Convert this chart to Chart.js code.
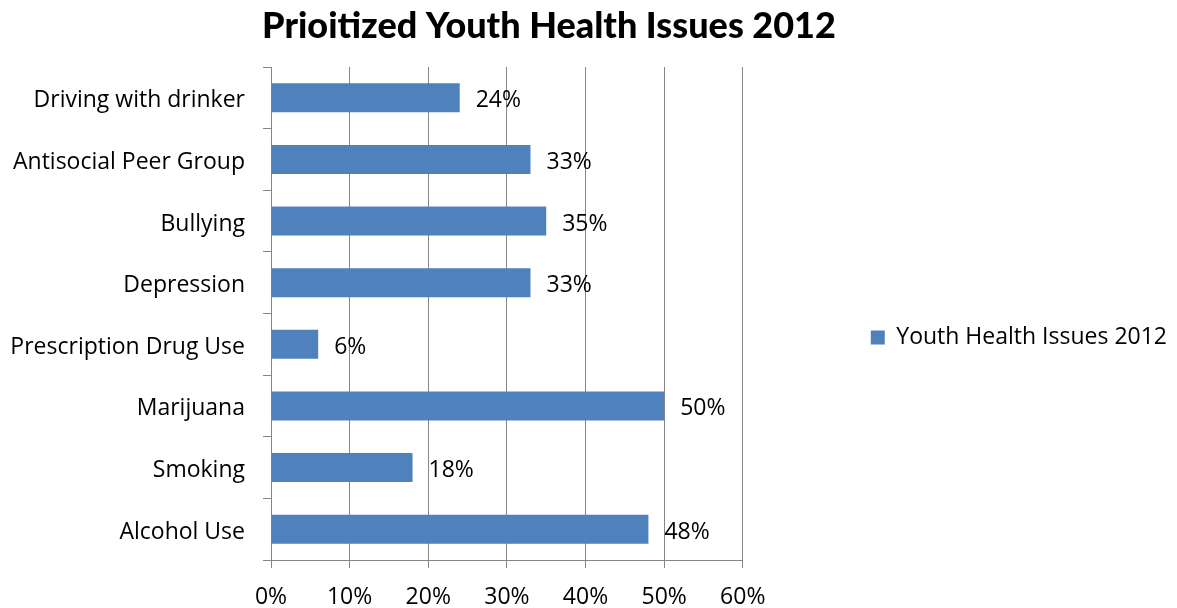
<!DOCTYPE html>
<html>
<head>
<meta charset="utf-8">
<script src="https://cdn.jsdelivr.net/npm/chart.js@4.4.1/dist/chart.umd.min.js"></script>
<style>
html,body{margin:0;padding:0;background:#fff;}
</style>
</head>
<body>
<canvas id="canvas" width="1177" height="608"></canvas>
<script>
// categories top to bottom, share of youth (%)
var categories = ['Driving with drinker','Antisocial Peer Group','Bullying','Depression',
	'Prescription Drug Use','Marijuana','Smoking','Alcohol Use'];
var values = [24,33,35,33,6,50,18,48];
var seriesName = 'Youth Health Issues 2012';
var chartTitle = 'Prioitized Youth Health Issues 2012';
var xMax = 60;
var xStep = 10;

var labelFont = 'Open Sans';
var labelSize = 23;
var gridColor = '#868686';

// value labels to the right of each bar
var barLabels = {
	id:'barLabels',
	afterDatasetsDraw:function(chart){
		var ctx=chart.ctx;
		var meta=chart.getDatasetMeta(0);
		ctx.save();
		ctx.font=labelSize+'px '+labelFont;
		ctx.fillStyle='#000';
		ctx.textAlign='left';
		ctx.textBaseline='middle';
		for (var i=0;i<meta.data.length;i++){
			var bar=meta.data[i];
			ctx.fillText(values[i]+'%',bar.x+16,bar.y+3);
		}
		ctx.restore();
	}
};

// heading drawn above the plot
var heading = {
	id:'heading',
	afterDraw:function(chart){
		var ctx=chart.ctx;
		ctx.save();
		ctx.font='900 36px Lato';
		ctx.fillStyle='#000';
		ctx.textAlign='center';
		ctx.textBaseline='middle';
		ctx.fillText(chartTitle,549,26);
		ctx.restore();
	}
};

var config={};
config['type']='bar';
config['data']={
	labels:categories,
	datasets:[{
		label:seriesName,
		data:values,
		backgroundColor:'#4F81BD',
		borderWidth:0,
		barPercentage:0.47,
		categoryPercentage:1
	}]
};
config['options']={
	indexAxis:'y',
	responsive:false,
	animation:false,
	layout:{padding:{top:67,right:0,left:0,bottom:0}},
	scales:{
		x:{
			min:0,
			max:xMax,
			afterFit:function(scale){ scale.height=48; },
			ticks:{
				stepSize:xStep,
				color:'#000',
				padding:16,
				font:{family:labelFont,size:labelSize},
				callback:function(v){ return v+'%'; }
			},
			grid:{color:gridColor,tickLength:8,lineWidth:1},
			border:{color:gridColor}
		},
		y:{
			afterFit:function(scale){ scale.width=271; },
			ticks:{
				color:'#000',
				padding:18,
				labelOffset:3,
				font:{family:labelFont,size:labelSize}
			},
			grid:{drawOnChartArea:false,color:gridColor,tickLength:8,offset:true},
			border:{color:gridColor}
		}
	},
	plugins:{
		title:{display:false},
		tooltip:{enabled:false},
		legend:{
			position:'right',
			maxWidth:700,
			labels:{
				boxWidth:14,
				boxHeight:14,
				padding:128,
				color:'#000',
				font:{family:labelFont,size:labelSize}
			}
		}
	}
};
config['plugins']=[barLabels,heading];

var ctx=document.getElementById('canvas').getContext('2d');
window.myBar=new Chart(ctx,config);
</script>
</body>
</html>
